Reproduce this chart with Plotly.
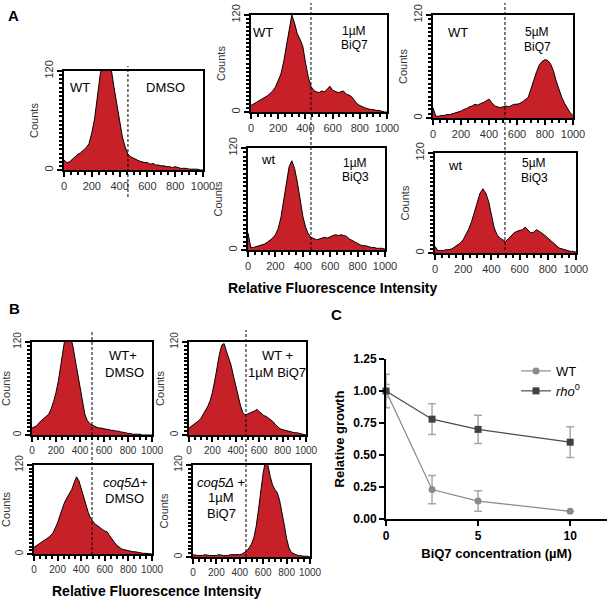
import plotly.graph_objects as go

W, H = 611, 602

# ---------------- data ----------------
BINS = list(range(0, 1001, 20))  # histogram bin positions (relative fluorescence)

A1_WT_DMSO = [12, 9, 10, 13, 17, 19, 21, 24, 27, 32, 45, 62, 88, 115, 132, 140, 136, 122, 100, 78,
              56, 40, 28, 19, 16, 14, 12, 11, 10, 9, 9, 7, 8, 6, 6, 5, 5, 4, 4, 3,
              4, 3, 2, 2, 2, 1, 1, 1, 1, 0, 0]
A2_WT_1uM_BiQ7 = [8, 10, 12, 13, 15, 18, 20, 23, 26, 31, 38, 47, 62, 82, 105, 120, 110, 97, 90, 82,
                  62, 44, 32, 27, 25, 24, 26, 25, 28, 32, 27, 25, 24, 25, 26, 22, 21, 19, 14, 10,
                  8, 6, 5, 4, 3, 3, 2, 2, 1, 0, 0]
A3_WT_5uM_BiQ7 = [12, 2, 2, 3, 3, 4, 4, 5, 6, 7, 8, 10, 11, 13, 14, 16, 15, 17, 18, 20,
                  22, 18, 14, 13, 12, 13, 14, 13, 15, 16, 16, 17, 19, 21, 24, 34, 45, 54, 62, 66,
                  68, 67, 63, 55, 43, 33, 24, 17, 11, 6, 3]
A4_wt_1uM_BiQ3 = [20, 3, 3, 4, 5, 6, 7, 9, 11, 14, 18, 25, 38, 58, 83, 98, 105, 96, 80, 58,
                  40, 27, 19, 15, 13, 12, 13, 14, 15, 14, 16, 17, 18, 17, 18, 17, 16, 13, 11, 9,
                  8, 6, 5, 5, 4, 3, 3, 2, 2, 2, 1]
A5_wt_5uM_BiQ3 = [8, 3, 3, 3, 4, 4, 5, 7, 9, 12, 16, 22, 29, 38, 50, 62, 72, 77, 72, 62,
                  45, 30, 22, 18, 16, 14, 17, 21, 24, 26, 27, 28, 31, 27, 24, 25, 28, 26, 24, 21,
                  18, 15, 12, 9, 6, 5, 4, 3, 2, 2, 1]
B1_WT_DMSO = [9, 10, 12, 16, 19, 21, 24, 27, 34, 43, 55, 70, 90, 115, 130, 135, 128, 115, 98, 80,
              60, 42, 27, 19, 15, 13, 12, 10, 9, 9, 8, 7, 7, 6, 6, 5, 5, 4, 3, 3,
              2, 2, 1, 1, 1, 1, 0, 0, 0, 0, 0]
B2_WT_1uM_BiQ7 = [9, 11, 13, 15, 18, 21, 26, 31, 37, 44, 55, 70, 88, 104, 116, 118, 108, 99, 90, 76,
                  62, 50, 38, 29, 26, 27, 28, 29, 31, 33, 30, 28, 25, 24, 22, 19, 17, 13, 10, 8,
                  7, 6, 6, 5, 4, 3, 3, 2, 1, 1, 0]
B3_coq5_DMSO = [9, 11, 14, 16, 18, 20, 22, 25, 28, 35, 42, 52, 62, 70, 76, 82, 87, 96, 104, 99,
                88, 80, 68, 56, 48, 44, 40, 38, 35, 33, 31, 30, 25, 20, 16, 12, 9, 7, 6, 5,
                4, 3, 3, 3, 2, 2, 1, 1, 1, 0, 0]
B4_coq5_1uM_BiQ7 = [3, 2, 2, 2, 2, 3, 2, 2, 2, 2, 2, 3, 2, 2, 2, 2, 3, 3, 3, 3,
                    3, 4, 6, 8, 12, 17, 25, 40, 62, 88, 110, 125, 120, 105, 94, 88, 84, 74, 60, 42,
                    24, 12, 6, 4, 3, 2, 2, 1, 1, 1, 0]

HIST_XTICKS = [0, 200, 400, 600, 800, 1000]
HIST_YTICKS = [0, 120]

# panel C
CONC = [0, 2.5, 5, 10]
WT_GROWTH = [1.0, 0.23, 0.14, 0.06]
WT_ERR = [0.13, 0.11, 0.08, 0.0]
RHO_GROWTH = [1.0, 0.78, 0.70, 0.60]
RHO_ERR = [0.05, 0.12, 0.11, 0.12]
C_XTICKS = [0, 5, 10]
C_YTICKS = [0, 0.25, 0.5, 0.75, 1.0, 1.25]

# gate positions (dashed lines) per panel, in fluorescence units
GATES = {"A1": 460, "A2": 441, "A3": 514, "B1": 500, "B2": 487}

# ---------------- layout helpers ----------------
def px(x):
    return x / W

def py(y):
    return 1 - y / H

FONT = "Liberation Sans, Arial, sans-serif"
RED = "#c62028"

# panel boxes: left, right, top, bottom (pixels)
hists = [
    ("A1", A1_WT_DMSO, (64, 203, 71, 170)),
    ("A2", A2_WT_1uM_BiQ7, (251, 387, 15, 112)),
    ("A3", A3_WT_5uM_BiQ7, (433, 573, 15, 118)),
    ("A4", A4_wt_1uM_BiQ3, (248, 385, 148, 250)),
    ("A5", A5_wt_5uM_BiQ3, (435, 576, 153, 253)),
    ("B1", B1_WT_DMSO, (32, 152, 342, 435)),
    ("B2", B2_WT_1uM_BiQ7, (189, 306, 342, 435)),
    ("B3", B3_coq5_DMSO, (34, 152, 465, 554)),
    ("B4", B4_coq5_1uM_BiQ7, (193, 310, 465, 557)),
]

fig = go.Figure()
layout = {}
axis_of = {}
for i, (name, vals, (l, r, t, b)) in enumerate(hists, start=1):
    assert len(vals) == len(BINS), name
    xa = "x" if i == 1 else f"x{i}"
    ya = "y" if i == 1 else f"y{i}"
    axis_of[name] = (xa, ya)
    small = name.startswith("B")
    fig.add_trace(go.Scatter(
        x=BINS, y=vals, mode="lines", xaxis=xa, yaxis=ya,
        line=dict(color="black", width=1), fill="tozeroy", fillcolor=RED,
        showlegend=False, hoverinfo="skip"))
    key = "" if i == 1 else str(i)
    layout["xaxis" + key] = dict(
        domain=[px(l), px(r)], anchor=ya, range=[0, 1000],
        tickvals=HIST_XTICKS, ticks="outside", ticklen=5, tickwidth=1.5,
        tickcolor="black", showline=True, linecolor="black", linewidth=1.5,
        mirror=True, showgrid=False, zeroline=False, tickangle=0,
        tickfont=dict(family=FONT, size=10 if small else 11, color="#333"),
        minor=dict(dtick=50, ticks="outside", ticklen=3, tickcolor="black"),
    )
    layout["yaxis" + key] = dict(
        domain=[py(b), py(t)], anchor=xa, range=[0, 120],
        tickvals=HIST_YTICKS, ticks="outside", ticklen=5, tickwidth=1.5,
        tickcolor="black", tickangle=-90, showline=True, linecolor="black",
        linewidth=1.5, mirror=True, showgrid=False, zeroline=False,
        tickfont=dict(family=FONT, size=10 if small else 11, color="#333"),
        minor=dict(dtick=5, ticks="outside", ticklen=3, tickcolor="black"),
        title=dict(text="Counts", font=dict(family=FONT, size=11, color="#333"), standoff=2),
    )

# panel C
cidx = len(hists) + 1
cx, cy = f"x{cidx}", f"y{cidx}"
fig.add_trace(go.Scatter(
    x=CONC, y=WT_GROWTH, name="WT", xaxis=cx, yaxis=cy, mode="lines+markers",
    line=dict(color="#8a8a8a", width=1.2),
    marker=dict(symbol="circle", size=7, color="#8a8a8a"),
    error_y=dict(type="data", array=WT_ERR, color="#a8a8a8", thickness=1.5, width=4),
    cliponaxis=False))
fig.add_trace(go.Scatter(
    x=CONC, y=RHO_GROWTH, name="<i>rho</i><sup>0</sup>", xaxis=cx, yaxis=cy,
    mode="lines+markers", line=dict(color="#4a4a4a", width=1.2),
    marker=dict(symbol="square", size=7, color="#404040"),
    error_y=dict(type="data", array=RHO_ERR, color="#a8a8a8", thickness=1.5, width=4),
    cliponaxis=False))
layout[f"xaxis{cidx}"] = dict(
    domain=[px(386), px(607)], anchor=cy, range=[0, 12], tickvals=C_XTICKS,
    ticks="outside", ticklen=5, tickwidth=2, tickcolor="black", showline=True,
    linecolor="black", linewidth=2, showgrid=False, zeroline=False,
    tickfont=dict(family=FONT, size=12, color="black", weight="bold"),
    title=dict(text="BiQ7 concentration (µM)",
               font=dict(family=FONT, size=13, color="black", weight="bold"), standoff=6),
)
layout[f"yaxis{cidx}"] = dict(
    domain=[py(519), py(359)], anchor=cx, range=[0, 1.25], tickvals=C_YTICKS,
    tickformat=".2f", ticks="outside", ticklen=5, tickwidth=2, tickcolor="black",
    showline=True, linecolor="black", linewidth=2, showgrid=False, zeroline=False,
    tickfont=dict(family=FONT, size=12, color="black", weight="bold"),
    title=dict(text="Relative growth",
               font=dict(family=FONT, size=13, color="black", weight="bold"), standoff=6),
)

# ---------------- shapes (gates) ----------------
shapes = []
def gate(name, y0px, y1px):
    xa, _ = axis_of[name]
    shapes.append(dict(type="line", xref=xa, yref="paper", x0=GATES[name], x1=GATES[name],
                       y0=py(y1px), y1=py(y0px),
                       line=dict(color="black", width=1, dash="3px,2px")))
gate("A1", 66, 197)
gate("A2", 3, 250)
gate("A3", 3, 250)
gate("B1", 330, 555)
gate("B2", 330, 557)

# ---------------- annotations ----------------
ann = []
def txt(s, x, y, size=12, bold=False, xanchor="center"):
    ann.append(dict(text=s, x=px(x), y=py(y), xref="paper", yref="paper",
                    showarrow=False, xanchor=xanchor, yanchor="middle",
                    font=dict(family=FONT, size=size, color="black",
                              weight="bold" if bold else "normal")))

txt("A", 13, 16, size=15, bold=True)
txt("B", 14, 308, size=15, bold=True)
txt("C", 336, 314, size=15, bold=True)

txt("WT", 80, 87, size=13); txt("DMSO", 165, 87, size=13)
txt("WT", 263, 32, size=13); txt("1µM", 354, 31); txt("BiQ7", 354, 45)
txt("WT", 458, 32, size=13); txt("5µM", 537, 32); txt("BiQ7", 537, 47)
txt("wt", 268, 160, size=13); txt("1µM", 355, 163); txt("BiQ3", 355, 177)
txt("wt", 455, 165, size=13); txt("5µM", 534, 163); txt("BiQ3", 534, 178)
txt("WT+", 123, 355, size=13); txt("DMSO", 124, 372, size=13)
txt("WT +", 277, 355, size=13); txt("1µM BiQ7", 277, 372, size=13)
txt("<i>coq5Δ</i>+", 125, 482, size=13); txt("DMSO", 124, 498, size=13)
txt("<i>coq5Δ</i> +", 221, 482, size=13); txt("1µM", 221, 497, size=13); txt("BiQ7", 221, 513, size=13)

txt("Relative Fluorescence Intensity", 333, 288, size=14, bold=True)
txt("Relative Fluorescence Intensity", 157, 591, size=14, bold=True)

layout.update(dict(
    width=W, height=H, margin=dict(l=0, r=0, t=0, b=0, autoexpand=False),
    paper_bgcolor="white", plot_bgcolor="white",
    shapes=shapes, annotations=ann,
    legend=dict(x=px(516), y=py(356), xanchor="left", yanchor="top",
                bgcolor="rgba(0,0,0,0)", itemwidth=30, tracegroupgap=2,
                font=dict(family=FONT, size=13, color="black")),
    font=dict(family=FONT),
))
fig.update_layout(**layout)
fig.write_html("out.html", config={"displayModeBar": False},
               post_script="document.body.style.margin='0px';document.body.style.overflow='hidden';")
